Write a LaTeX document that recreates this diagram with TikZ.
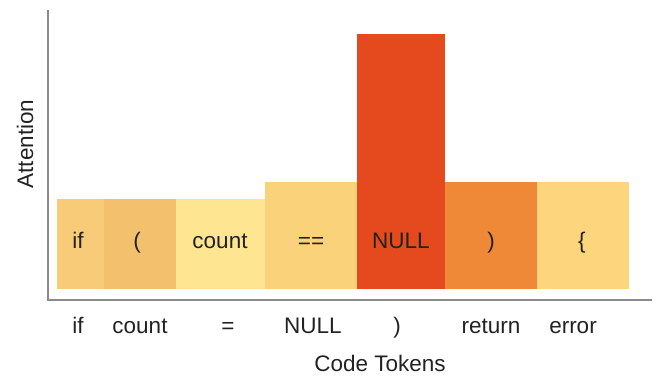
\documentclass[tikz,border=0pt]{standalone}
\usepackage{fontspec}
\setmainfont{Liberation Sans}
\definecolor{cIf}{HTML}{F8CB78}
\definecolor{cParen}{HTML}{F3C06E}
\definecolor{cCount}{HTML}{FDE591}
\definecolor{cEq}{HTML}{F9D27A}
\definecolor{cNull}{HTML}{E44A1E}
\definecolor{cClose}{HTML}{F08937}
\definecolor{cBrace}{HTML}{FCD57D}
\definecolor{axisgray}{HTML}{8A8A8A}
\definecolor{txt}{HTML}{222222}
\begin{document}
\begin{tikzpicture}[x=1pt,y=1pt,
  bar/.style={draw=none,inner sep=0pt,outer sep=0pt,anchor=south west},
  lbl/.style={inner sep=0pt,anchor=base,text=txt,font=\fontsize{22.5}{26}\selectfont},
  axis/.style={draw=axisgray,line width=1.2pt}]
\useasboundingbox (0,0) rectangle (659,376);
% bars (bottom at y=87)
\node[bar,fill=cIf,minimum width=47pt,minimum height=90pt] (b1) at (57,87) {};
\node[bar,fill=cParen,minimum width=72pt,minimum height=90pt] (b2) at (104,87) {};
\node[bar,fill=cCount,minimum width=89pt,minimum height=90pt] (b3) at (176,87) {};
\node[bar,fill=cEq,minimum width=92pt,minimum height=107pt] (b4) at (265,87) {};
\node[bar,fill=cNull,minimum width=88pt,minimum height=255pt] (b5) at (357,87) {};
\node[bar,fill=cClose,minimum width=92pt,minimum height=107pt] (b6) at (445,87) {};
\node[bar,fill=cBrace,minimum width=92pt,minimum height=107pt] (b7) at (537,87) {};
% in-bar labels
\node[lbl] (t1) at (78,128) {if};
\node[lbl] (t2) at (137,128) {(};
\node[lbl] (t3) at (220,128) {count};
\node[lbl] (t4) at (311,128) {==};
\node[lbl] (t5) at (401,128) {NULL};
\node[lbl] (t6) at (491,128) {)};
\node[lbl] (t7) at (582,128) {\{};
% axes
\coordinate (origin) at (48,76);
\coordinate (ytop) at (48,366);
\coordinate (xend) at (652,76);
\draw[axis] (ytop) -- (origin) -- (xend);
% x tick labels
\node[lbl] (x1) at (78,43) {if};
\node[lbl] (x2) at (140,43) {count};
\node[lbl] (x3) at (228,43) {=};
\node[lbl] (x4) at (313,43) {NULL};
\node[lbl] (x5) at (397,43) {)};
\node[lbl] (x6) at (491,43) {return};
\node[lbl] (x7) at (573,43) {error};
% axis titles
\node[lbl] (xt) at (380,5) {Code Tokens};
\node[lbl,rotate=90] (yt) at (33,232) {Attention};
\end{tikzpicture}
\end{document}
